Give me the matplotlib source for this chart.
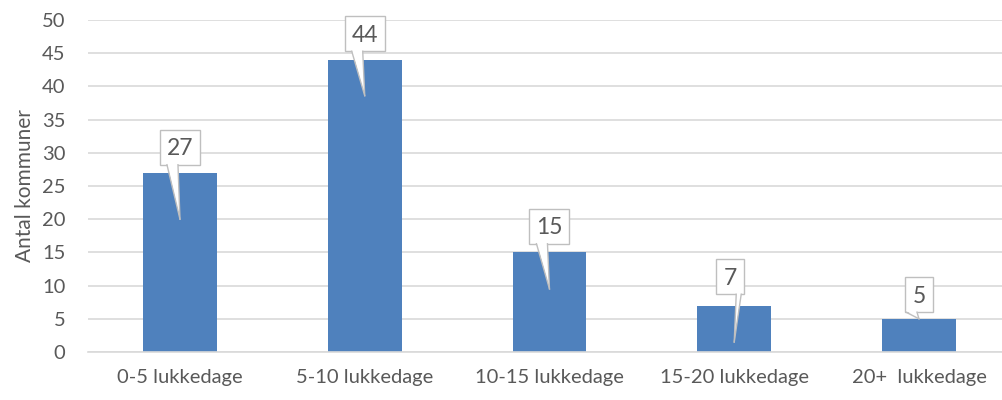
import matplotlib
matplotlib.use('Agg')
import matplotlib.pyplot as plt
from matplotlib.patches import Rectangle, Polygon
from matplotlib.transforms import IdentityTransform
import numpy as np

# data
categories = ['0-5 lukkedage', '5-10 lukkedage', '10-15 lukkedage', '15-20 lukkedage', '20+  lukkedage']
values = [27, 44, 15, 7, 5]
# callouts: bottom of box and pointer tip (in data units)
box_bottom = [28.2, 45.3, 16.3, 8.7, 6.0]
tip_y = [20.0, 38.6, 9.5, 1.5, 5.0]
tail_side = [-1, -1, -1, 1, -1]

plt.rcParams['font.family'] = ['Lato', 'DejaVu Sans']
text_color = '#595959'
edge = '#bfbfbf'

fig = plt.figure(figsize=(10.03, 4), dpi=100)
ax = fig.add_axes([87.6 / 1003, 48 / 400, 923.75 / 1003, 332 / 400])

x = np.arange(len(categories))
ax.bar(x, values, width=0.4, color='#4f81bd', zorder=2)

ax.set_xlim(-0.5, len(categories) - 0.5)
ax.set_ylim(0, 50)
ax.set_yticks(range(0, 51, 5))
ax.set_xticks(x)
ax.set_xticklabels(categories)
ax.tick_params(axis='both', length=0, labelsize=14.5, colors=text_color)
ax.tick_params(axis='x', pad=12)
ax.tick_params(axis='y', pad=16)
ax.grid(axis='y', color='#d9d9d9', lw=1.2, zorder=0)
for s in ['top', 'right', 'left']:
    ax.spines[s].set_visible(False)
ax.spines['bottom'].set_color('#d9d9d9')
ax.spines['bottom'].set_linewidth(1.2)
ax.set_ylabel('Antal kommuner', fontsize=15, color=text_color, labelpad=5)

# callout boxes drawn in pixel space
ident = IdentityTransform()
box_h = 35
for xi, v, bb, ty, side in zip(x, values, box_bottom, tip_y, tail_side):
    cx, by = ax.transData.transform((xi, bb))
    tx, tyy = ax.transData.transform((xi, ty))
    w = 16 + 12 * len(str(v))
    bx = cx - 4 if side > 0 else cx
    rect = Rectangle((bx - w / 2, by), w, box_h, fc='white', ec=edge, lw=1.0,
                     transform=ident, zorder=5, clip_on=False)
    fig.add_artist(rect)
    if side < 0:
        b0, b1 = cx - 13, cx - 2
    else:
        b0, b1 = cx + 2, cx + 7
    if by - tyy > 3:
        tail = Polygon([(b0, by + 1.5), (b1, by + 1.5), (tx, tyy)], closed=True,
                       fc='white', ec='none', transform=ident, zorder=6, clip_on=False)
        fig.add_artist(tail)
        for bxp in (b0, b1):
            fig.add_artist(plt.Line2D([bxp, tx], [by, tyy], color=edge, lw=1.0,
                                      transform=ident, zorder=7))
    fig.text(bx, by + box_h / 2 - 1.5, str(v), transform=ident, ha='center', va='center',
             fontsize=16.5, color=text_color, zorder=8)

fig.savefig('out.png', dpi=100)
